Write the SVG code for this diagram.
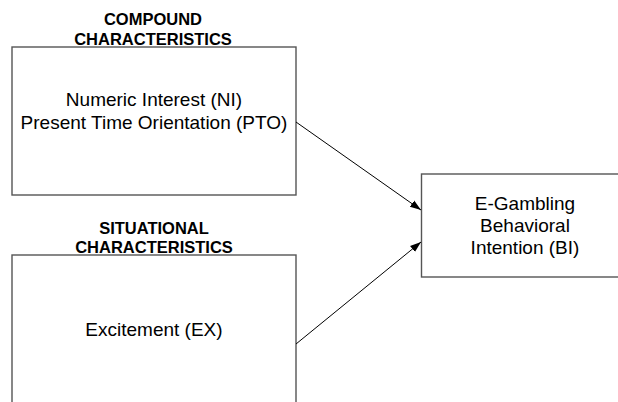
<svg xmlns="http://www.w3.org/2000/svg" width="618" height="402" viewBox="0 0 618 402">
<defs>
<style>
.box{fill:#fff;stroke:#555;stroke-width:1.4}
.hdr{font-family:"Liberation Sans",Arial,sans-serif;font-weight:bold;font-size:16.5px;fill:#000;text-anchor:middle}
.lbl{font-family:"Liberation Sans",Arial,sans-serif;font-size:19px;fill:#000;text-anchor:middle}
.conn{stroke:#000;stroke-width:1;fill:none}
</style>
<marker id="arr" viewBox="0 0 10 10" refX="10" refY="5" markerWidth="11" markerHeight="11" markerUnits="userSpaceOnUse" orient="auto">
<path d="M0,1.5 L10,5 L0,8.5 Z" fill="#000"/>
</marker>
</defs>
<rect width="618" height="402" fill="#fff"/>
<g id="compound">
<text class="hdr" x="153" y="25">COMPOUND</text>
<text class="hdr" x="153" y="45">CHARACTERISTICS</text>
<rect class="box" x="12" y="47" width="284" height="148"/>
<text class="lbl" x="154" y="106">Numeric Interest (NI)</text>
<text class="lbl" x="154" y="129">Present Time Orientation (PTO)</text>
</g>
<g id="situational">
<text class="hdr" x="154" y="234">SITUATIONAL</text>
<text class="hdr" x="154" y="253">CHARACTERISTICS</text>
<rect class="box" x="12" y="255" width="284" height="160"/>
<text class="lbl" x="154" y="336">Excitement (EX)</text>
</g>
<g id="intention">
<rect class="box" x="421.5" y="174" width="210" height="103"/>
<text class="lbl" x="525" y="210">E-Gambling</text>
<text class="lbl" x="525" y="232">Behavioral</text>
<text class="lbl" x="525" y="254">Intention (BI)</text>
</g>
<g id="connectors">
<line class="conn" x1="296" y1="122" x2="421" y2="210" marker-end="url(#arr)"/>
<line class="conn" x1="296" y1="344" x2="421" y2="242" marker-end="url(#arr)"/>
</g>
</svg>
